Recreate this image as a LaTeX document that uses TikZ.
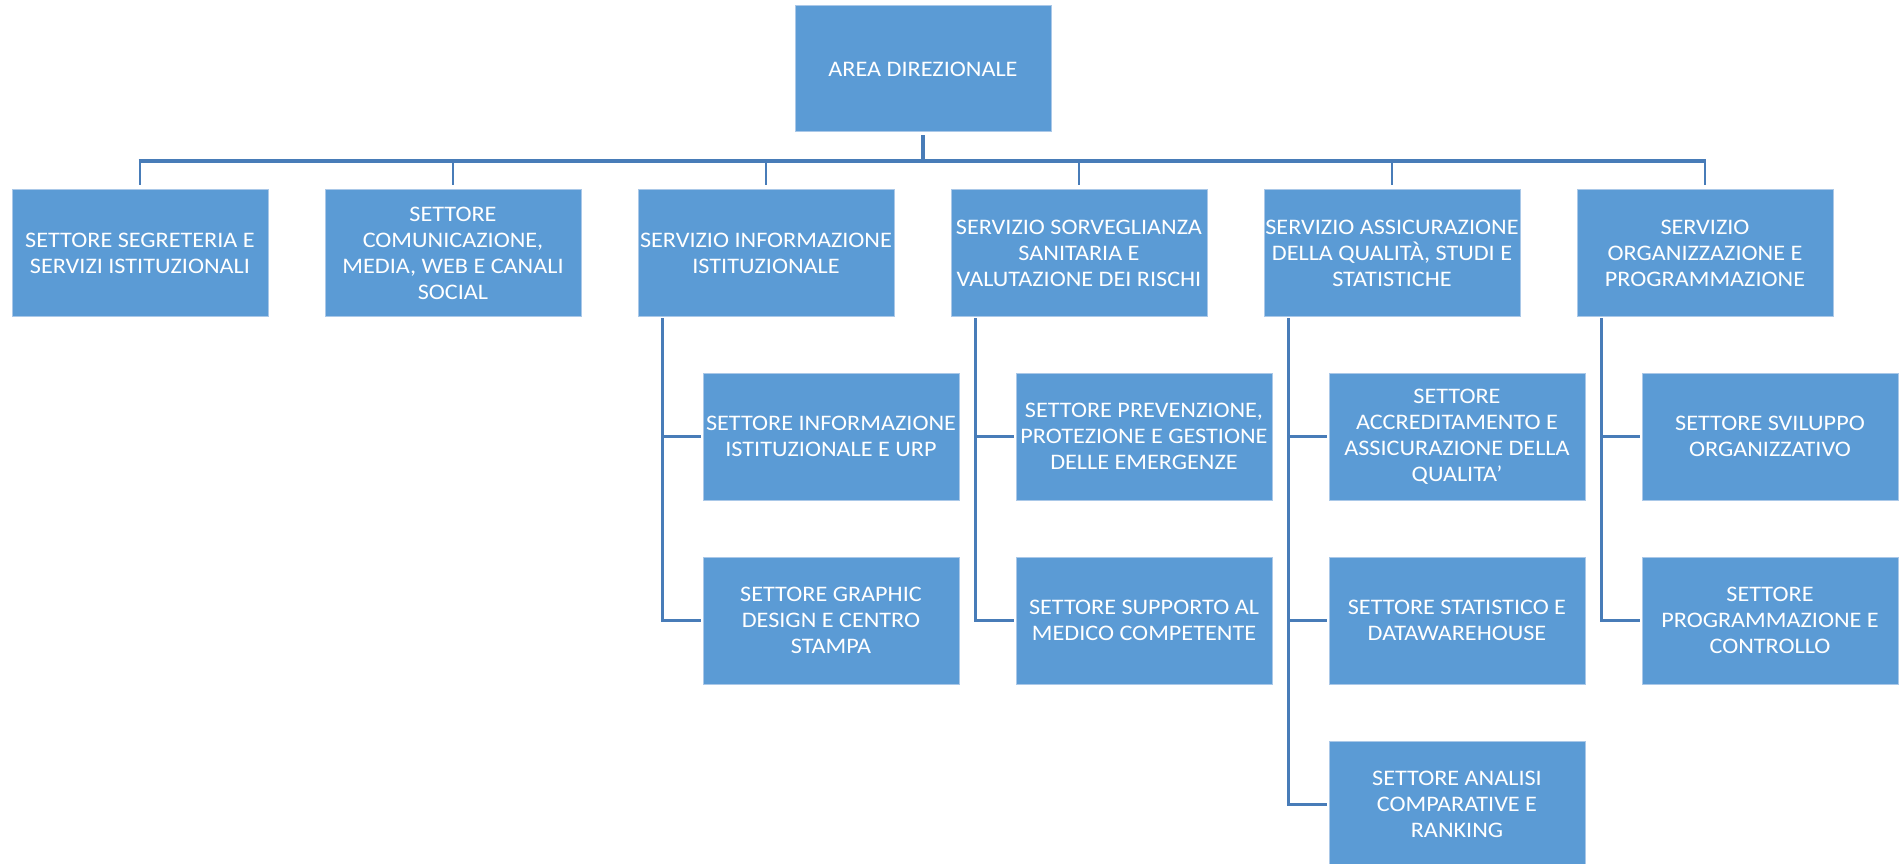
\documentclass[tikz,border=0pt]{standalone}
\usepackage{fontspec}
\setmainfont[FakeStretch=1.09]{Carlito}
\usetikzlibrary{calc}
\definecolor{boxblue}{RGB}{91,155,213}
\definecolor{boxedge}{RGB}{170,200,232}
\definecolor{linkblue}{RGB}{72,124,184}
\tikzset{
  orgbox/.style={rectangle, fill=boxblue, draw=boxedge, line width=1pt,
    minimum width=256pt, minimum height=126pt, inner sep=0pt,
    text=white, align=center,
    font=\fontsize{22.2}{26}\selectfont},
  subbox/.style={orgbox, minimum height=127pt},
  link/.style={draw=linkblue, line width=2.6pt},
  mainlink/.style={draw=linkblue, line width=3.4pt}
}
\begin{document}
\begin{tikzpicture}[x=1pt,y=-1pt]
\useasboundingbox (0,0) rectangle (1899,864);
\clip (0,0) rectangle (1899,864);
\node[orgbox] (top) at (923,69) {AREA DIREZIONALE};
\node[orgbox] (s1) at (140,253) {SETTORE SEGRETERIA E\\SERVIZI ISTITUZIONALI};
\node[orgbox] (s2) at (453,253) {SETTORE\\COMUNICAZIONE,\\MEDIA, WEB E CANALI\\SOCIAL};
\node[orgbox] (s3) at (766,253) {SERVIZIO INFORMAZIONE\\ISTITUZIONALE};
\node[orgbox] (s4) at (1079,253) {SERVIZIO SORVEGLIANZA\\SANITARIA E\\VALUTAZIONE DEI RISCHI};
\node[orgbox] (s5) at (1392,253) {SERVIZIO ASSICURAZIONE\\DELLA QUALITÀ, STUDI E\\STATISTICHE};
\node[orgbox] (s6) at (1705,253) {SERVIZIO\\ORGANIZZAZIONE E\\PROGRAMMAZIONE};
% sub boxes
\node[subbox] (a1) at (831,436.5) {SETTORE INFORMAZIONE\\ISTITUZIONALE E URP};
\node[subbox] (a2) at (831,620.5) {SETTORE GRAPHIC\\DESIGN E CENTRO\\STAMPA};
\node[subbox] (b1) at (1144,436.5) {SETTORE PREVENZIONE,\\PROTEZIONE E GESTIONE\\DELLE EMERGENZE};
\node[subbox] (b2) at (1144,620.5) {SETTORE SUPPORTO AL\\MEDICO COMPETENTE};
\node[subbox] (c1) at (1457,436.5) {SETTORE\\ACCREDITAMENTO E\\ASSICURAZIONE DELLA\\QUALITA’};
\node[subbox] (c2) at (1457,620.5) {SETTORE STATISTICO E\\DATAWAREHOUSE};
\node[subbox] (c3) at (1457,804.5) {SETTORE ANALISI\\COMPARATIVE E\\RANKING};
\node[subbox] (d1) at (1770,436.5) {SETTORE SVILUPPO\\ORGANIZZATIVO};
\node[subbox] (d2) at (1770,620.5) {SETTORE\\PROGRAMMAZIONE E\\CONTROLLO};
% top level connectors
\coordinate (bar) at (0,161);
\draw[mainlink, shorten <=3pt] (top.south) -- (top.south |- bar);
\draw[mainlink] ([xshift=-1.3pt]s1.north |- bar) -- ([xshift=1.3pt]s6.north |- bar);
\foreach \s in {s1,s2,s3,s4,s5,s6}{
  \draw[link, shorten >=4pt] (\s.north |- bar) -- (\s.north);
}
% sub connectors
\foreach \p/\kids in {s3/{a1,a2}, s4/{b1,b2}, s5/{c1,c2,c3}, s6/{d1,d2}}{
  \coordinate (v\p) at ($(\p.south west)+(25,3)$);
  \foreach \k in \kids {
    \draw[link, line cap=rect, shorten >=3pt] (v\p) |- (\k.west);
  }
}
\end{tikzpicture}
\end{document}
